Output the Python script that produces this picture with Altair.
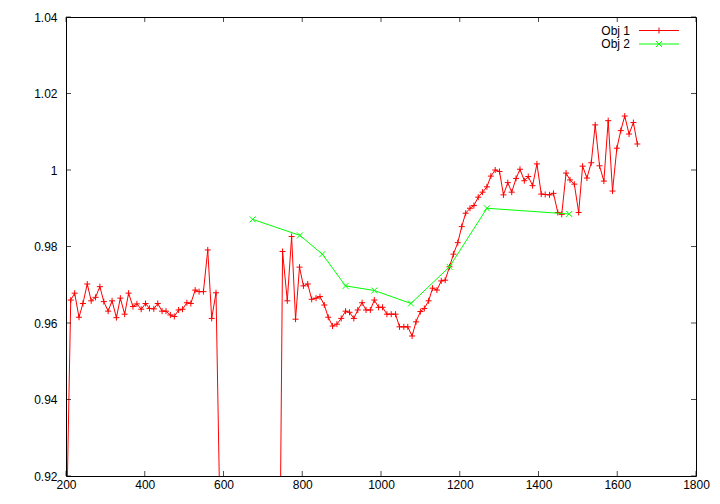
import altair as alt
import pandas as pd

# ---- data ----
obj1_x = [201, 212, 222, 233, 243, 254, 264, 275, 286, 296, 307, 317, 328, 338, 349,
          359, 370, 380, 391, 402, 412, 423, 433, 444, 454, 465, 475, 486, 496, 507,
          517, 528, 538, 549, 560, 570, 581, 591, 740,
          750, 762, 773, 783, 793, 803, 814, 824, 835, 845, 856, 866, 877, 888, 899,
          910, 920, 931, 941, 952, 962, 973, 983, 994, 1004, 1015, 1026, 1037, 1047, 1058,
          1068, 1079, 1089, 1100, 1110, 1121, 1131, 1142, 1153, 1163, 1174, 1184, 1195, 1205, 1215,
          1226, 1236, 1247, 1258, 1269, 1279, 1290, 1301, 1311, 1322, 1332, 1343, 1353, 1364, 1374,
          1385, 1396, 1407, 1417, 1428, 1438, 1449, 1459, 1470, 1480, 1491, 1502, 1512, 1523, 1534,
          1544, 1555, 1566, 1577, 1588, 1599, 1609, 1619, 1630, 1641, 1651]
obj1_y = [0.905, 0.9660, 0.9678, 0.9615, 0.9651, 0.9702, 0.9658, 0.9667, 0.9695, 0.9656, 0.9631,
          0.9658, 0.9614, 0.9665, 0.9623, 0.9678, 0.9643, 0.9650, 0.9636, 0.9651, 0.9638,
          0.9637, 0.9651, 0.9631, 0.9631, 0.9621, 0.9617, 0.9634, 0.9636, 0.9653, 0.9651,
          0.9686, 0.9682, 0.9682, 0.9791, 0.9612, 0.9679, 0.909, 0.858,
          0.9787, 0.9658, 0.9826, 0.9610, 0.9746, 0.9697, 0.9702, 0.9662, 0.9665, 0.9669,
          0.9647, 0.9615, 0.9592, 0.9597, 0.9612, 0.9631, 0.9628, 0.9612, 0.9634, 0.9653,
          0.9634, 0.9634, 0.9660, 0.9641, 0.9641, 0.9623, 0.9623, 0.9623, 0.9590, 0.9590,
          0.9590, 0.9566, 0.9603, 0.9630, 0.9638, 0.9658, 0.9691, 0.9686, 0.9710, 0.9712,
          0.9747, 0.9780, 0.9810, 0.9852, 0.9887, 0.9900, 0.9907, 0.9929, 0.9942, 0.9956,
          0.9984, 1.0000, 0.9996, 0.9935, 0.9967, 0.9942, 0.9978, 1.0002, 0.9972, 0.9983,
          0.9959, 1.0016, 0.9937, 0.9936, 0.9935, 0.9939, 0.9889, 0.9884, 0.9992, 0.9974,
          0.9963, 0.9889, 1.0010, 0.9979, 1.0019, 1.0118, 1.0011, 0.9971, 1.0129, 0.9945,
          1.0057, 1.0103, 1.0141, 1.0094, 1.0124, 1.0068]

obj2_x = [674, 794, 851, 910, 983, 1076, 1174, 1269, 1478]
obj2_y = [0.9871, 0.9829, 0.9780, 0.9697, 0.9685, 0.9651, 0.9747, 0.9900, 0.9885]

x_ticks = [200, 400, 600, 800, 1000, 1200, 1400, 1600, 1800]
y_ticks = [0.92, 0.94, 0.96, 0.98, 1.00, 1.02, 1.04]

series_names = ["Obj 1", "Obj 2"]
series_colors = ["#ff0000", "#00ff00"]

# ---- styling ----
W, H = 630, 459
FONT = "Liberation Sans"
PLUS = "M-1,0L1,0M0,-1L0,1"
CROSS = "M-1,-1L1,1M-1,1L1,-1"
shapes = [PLUS, CROSS]

df1 = pd.DataFrame({"x": obj1_x, "y": obj1_y})
df2 = pd.DataFrame({"x": obj2_x, "y": obj2_y})
dfs = [df1, df2]

xs = alt.Scale(domain=[200, 1800], nice=False, zero=False)
ys = alt.Scale(domain=[0.92, 1.04], nice=False, zero=False)

x_axis = alt.Axis(values=x_ticks, format="d", ticks=False, tickSize=0, domain=False,
                  grid=False, labelFont=FONT, labelFontSize=12, labelColor="black",
                  labelPadding=3, labelFlush=False, labelOverlap=False, title=None)
y_axis = alt.Axis(values=y_ticks, format=".2~f", ticks=False, tickSize=0, domain=False,
                  grid=False, labelFont=FONT, labelFontSize=12, labelColor="black",
                  labelPadding=9, labelFlush=False, labelOverlap=False, title=None)

layers = []
for df, color, shape in zip(dfs, series_colors, shapes):
    enc = dict(x=alt.X("x:Q", scale=xs, axis=x_axis), y=alt.Y("y:Q", scale=ys, axis=y_axis))
    layers.append(alt.Chart(df).mark_line(color=color, strokeWidth=1, clip=True).encode(**enc))
    layers.append(alt.Chart(df).mark_point(shape=shape, filled=False, size=36, color=color,
                                           strokeWidth=1, opacity=1, clip=True).encode(**enc))

# inward tick marks on all four borders
xt = pd.DataFrame({"v": x_ticks})
yt = pd.DataFrame({"v": y_ticks})
for yy in [H - 2.5, 2.5]:
    layers.append(alt.Chart(xt).mark_tick(color="black", thickness=1, size=5).encode(
        x=alt.X("v:Q", scale=xs, axis=x_axis), y=alt.value(yy)))
for xx in [2.5, W - 2.5]:
    layers.append(alt.Chart(yt).mark_tick(color="black", thickness=1, size=5).encode(
        y=alt.Y("v:Q", scale=ys, axis=y_axis), x=alt.value(xx)))

# gnuplot-style key (text right-aligned, sample to its right)
for i, (name, color, shape) in enumerate(zip(series_names, series_colors, shapes)):
    ly = 13.5 + 13.5 * i
    base = alt.Chart(pd.DataFrame({"name": [name]}))
    layers.append(base.mark_text(align="right", baseline="middle", font=FONT, fontSize=12,
                                 color="black").encode(text="name:N", x=alt.value(564),
                                                       y=alt.value(ly)))
    layers.append(base.mark_rule(color=color, strokeWidth=1).encode(
        x=alt.value(573), x2=alt.value(613), y=alt.value(ly)))
    layers.append(base.mark_point(shape=shape, filled=False, size=36, color=color,
                                  strokeWidth=1, opacity=1).encode(
        x=alt.value(593), y=alt.value(ly)))

chart = alt.layer(*layers).properties(
    width=W, height=H,
    padding={"left": 58, "top": 9, "right": 16, "bottom": 20},
    autosize=alt.AutoSizeParams(type="none"),
    background="white",
).configure_view(stroke="black", strokeWidth=1)

chart.save("out.html", embed_options={"renderer": "svg", "actions": False})
